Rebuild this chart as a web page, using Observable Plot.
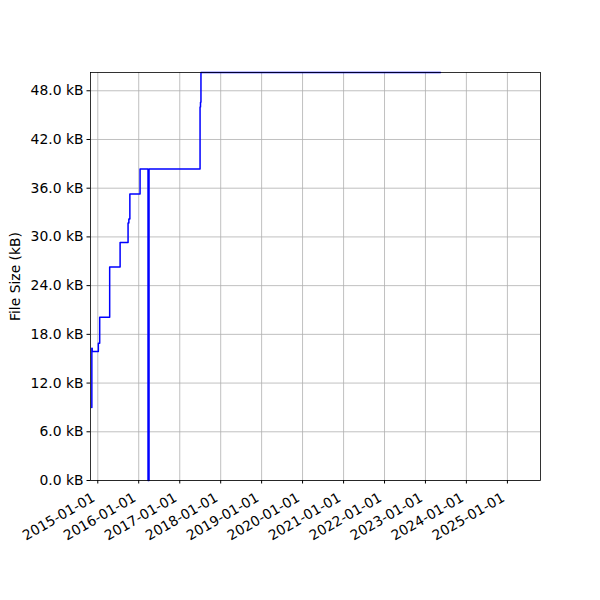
<!DOCTYPE html>
<html>
<head>
<meta charset="utf-8">
<script src="https://cdn.jsdelivr.net/npm/d3@7"></script>
<script src="https://cdn.jsdelivr.net/npm/@observablehq/plot@0.6"></script>
<style>
  html, body { margin: 0; padding: 0; background: #fff; }
  #chart svg { font-family: "DejaVu Sans", sans-serif; }
</style>
</head>
<body>
<div id="chart"></div>
<script>
// Commit dates and file size (kB)
const dates = [
  "2014-11-08", "2014-11-09", "2014-11-12", "2015-01-06", "2015-01-18",
  "2015-04-17", "2015-07-19", "2015-09-28", "2015-10-05", "2015-10-14",
  "2016-01-13", "2016-03-24", "2016-04-02", "2017-07-01", "2017-07-05",
  "2017-07-09", "2023-05-15"
];
const sizes = [
  9.0, 16.3, 15.9, 16.9, 20.1,
  26.3, 29.3, 31.7, 32.2, 35.3,
  38.35, 0.0, 38.35, 46.0, 46.6,
  50.25, 50.25
];
const yTicks = [0, 6, 12, 18, 24, 30, 36, 42, 48];
const xTickYears = ["2015-01-01","2016-01-01","2017-01-01","2018-01-01","2019-01-01","2020-01-01","2021-01-01","2022-01-01","2023-01-01","2024-01-01","2025-01-01"];

const data = dates.map((d, i) => ({date: new Date(d + "T00:00:00Z"), size: sizes[i]}));
const xTicks = xTickYears.map(d => new Date(d + "T00:00:00Z"));
const fmt = d3.utcFormat("%Y-%m-%d");

const chart = Plot.plot({
  width: 600,
  height: 600,
  marginLeft: 90,
  marginRight: 60,
  marginTop: 72,
  marginBottom: 120,
  style: {fontFamily: "DejaVu Sans, sans-serif", fontSize: "13.9px", color: "#000", background: "#fff"},
  x: {type: "utc", domain: [new Date("2014-10-28T00:00:00Z"), new Date("2025-10-23T00:00:00Z")]},
  y: {domain: [0, 50.25]},
  marks: [
    Plot.gridX(xTicks, {stroke: "#b0b0b0", strokeOpacity: 1, strokeWidth: 0.8}),
    Plot.gridY(yTicks, {stroke: "#b0b0b0", strokeOpacity: 1, strokeWidth: 0.8}),
    Plot.line(data, {x: "date", y: "size", curve: "step-after", stroke: "#0000ff", strokeWidth: 1.5}),
    Plot.frame({stroke: "#000", strokeWidth: 0.8}),
    Plot.axisY(yTicks, {
      tickSize: 3.5, tickPadding: 3.5, tickFormat: d => d.toFixed(1) + " kB",
      label: "File Size (kB)", labelAnchor: "center", labelArrow: "none", labelOffset: 80,
      fontSize: 13.9
    }),
    Plot.axisX(xTicks, {tickSize: 3.5, tickFormat: () => "", label: null}),
    Plot.text(xTicks, {
      x: d => d, text: d => fmt(d), frameAnchor: "bottom",
      rotate: -30, textAnchor: "end", lineAnchor: "middle",
      dx: -4, dy: 16, fontSize: 13.9, fill: "#000"
    })
  ]
});
document.getElementById("chart").appendChild(chart);
</script>
</body>
</html>
